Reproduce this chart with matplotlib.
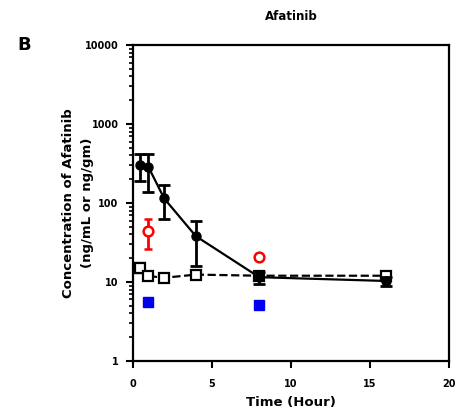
import matplotlib
matplotlib.use('Agg')
import matplotlib.pyplot as plt
import numpy as np

plt.rcParams['font.family'] = ['DejaVu Sans']
plt.rcParams['font.weight'] = 'bold'

# plasma (filled circles, solid line)
t_plasma = [0.5, 1, 2, 4, 8, 16]
c_plasma = [307, 287, 114, 38, 11.5, 10.3]
lo_plasma = [189, 137, 62, 16, 9.5, 9.0]
hi_plasma = [420, 420, 171, 60, 13.5, 11.5]

# tissue (open squares, dashed line)
t_tissue = [0.5, 1, 2, 4, 8, 16]
c_tissue = [15, 11.9, 11.3, 12.4, 12, 12]
lo_tissue = [13, 11.0, 10.5, 11.5, 11.0, 11.0]
hi_tissue = [17.5, 12.8, 12.0, 13.2, 13.0, 13.0]

# red open circles
t_red = [1, 8]
c_red = [44, 21]
lo_red = [26, 21]
hi_red = [62, 21]

# blue squares
t_blue = [1, 8]
c_blue = [5.6, 5.1]

fig = plt.figure(figsize=(4.57, 4.13), dpi=100)
ax = fig.add_axes([0.290, 0.126, 0.693, 0.765])


def yerr(c, lo, hi):
    c = np.array(c)
    return [c - np.array(lo), np.array(hi) - c]


ax.errorbar(t_tissue, c_tissue, yerr=yerr(c_tissue, lo_tissue, hi_tissue),
            fmt='s', ls='--', color='black', mfc='white', mec='black', mew=1.6,
            ms=7, lw=1.6, elinewidth=2, capsize=4, capthick=2, zorder=3)
ax.errorbar(t_plasma, c_plasma, yerr=yerr(c_plasma, lo_plasma, hi_plasma),
            fmt='o', ls='-', color='black', ms=6.5, lw=1.6,
            elinewidth=2, capsize=4, capthick=2, zorder=4)
ax.errorbar(t_red, c_red, yerr=yerr(c_red, lo_red, hi_red),
            fmt='o', ls='none', color='red', mfc='white', mec='red', mew=1.8,
            ms=7, elinewidth=2, capsize=3, capthick=2, zorder=5)
ax.plot(t_blue, c_blue, 's', color='#0000ee', ms=6.5, ls='none', zorder=5)

ax.set_yscale('log')
ax.set_ylim(1, 10000)
ax.set_xlim(0, 20)
ax.set_xticks([0, 5, 10, 15, 20])
ax.set_yticks([1, 10, 100, 1000, 10000])
ax.set_yticklabels(['1', '10', '100', '1000', '10000'])

for s in ax.spines.values():
    s.set_linewidth(1.6)
ax.tick_params(axis='both', which='major', direction='out', length=5, width=1.5,
               labelsize=7, top=False, right=False)
ax.tick_params(axis='y', which='minor', direction='out', length=3, width=1.2)
ax.tick_params(axis='x', pad=8)
ax.tick_params(axis='y', which='major', pad=5)
for lab in ax.get_xticklabels() + ax.get_yticklabels():
    lab.set_fontweight('bold')

ax.set_xlabel('Time (Hour)', fontsize=9.5, fontweight='bold', labelpad=5)
fig.text(0.170, 0.508, 'Concentration of Afatinib\n(ng/mL or ng/gm)',
         rotation=90, ha='center', va='center', fontsize=9.5,
         fontweight='bold', linespacing=1.6)
ax.set_title('Afatinib', fontsize=8.5, fontweight='bold', pad=18)

fig.text(0.037, 0.891, 'B', fontsize=13, fontweight='bold', va='center')

fig.savefig('out.png', dpi=100)
